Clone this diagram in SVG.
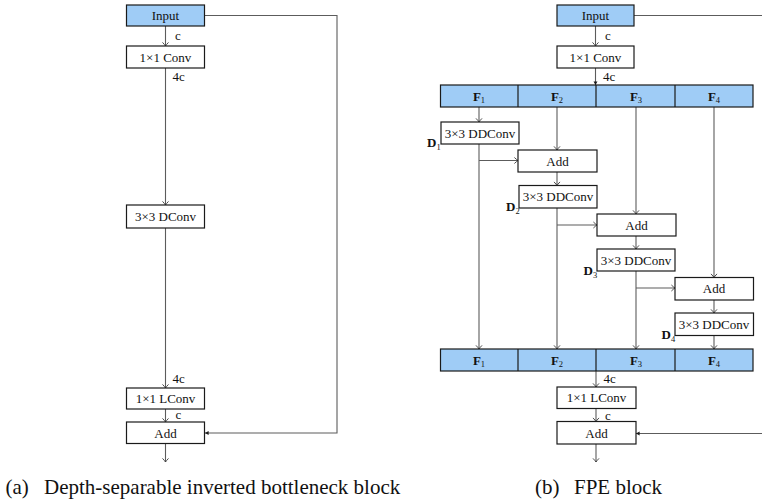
<svg xmlns="http://www.w3.org/2000/svg" width="762" height="501" viewBox="0 0 762 501">
  <style>
    text { font-family: "Liberation Serif", "Times New Roman", serif; fill: #111; }
    .lbl { font-size: 13px; text-anchor: middle; }
    .tag { font-size: 13px; }
    .fb { font-size: 13px; font-weight: bold; }
    .sub { font-size: 8.5px; font-weight: normal; }
    .cap { font-size: 21px; }
    .box { fill: #ffffff; stroke: #1a1a1a; stroke-width: 1.2; }
    .blue { fill: #9fccf6; stroke: #1a1a1a; stroke-width: 1.2; }
    .div { stroke: #1a1a1a; stroke-width: 1.2; }
    .ln { fill: none; stroke: #5c5c5c; stroke-width: 1.1; }
    .a { marker-end: url(#arr); }
    .af { marker-end: url(#arrf); }
  </style>
  <defs>
    <marker id="arr" viewBox="-5 -4 6 8" markerWidth="6" markerHeight="8" refX="0" refY="0" orient="auto" markerUnits="userSpaceOnUse">
      <path d="M-3.6,-3 Q-1.2,-0.7 0,0 Q-1.2,0.7 -3.6,3" fill="none" stroke="#3a3a3a" stroke-width="0.9"/>
    </marker>
    <marker id="arrf" viewBox="-5 -4 6 8" markerWidth="6" markerHeight="8" refX="0" refY="0" orient="auto" markerUnits="userSpaceOnUse">
      <path d="M-3.6,-2 L0,0 L-3.6,2 Z" fill="#1a1a1a"/>
    </marker>
  </defs>

  <!-- connectors -->
  <g id="connectors">
    <!-- (a) depth-separable inverted bottleneck -->
    <path class="ln a" d="M165.5,26 V46"/>
    <path class="ln a" d="M165.5,68 V205"/>
    <path class="ln a" d="M165.5,228 V388"/>
    <path class="ln a" d="M165.5,409 V422"/>
    <path class="ln a" d="M165.5,443.5 V462"/>
    <path class="ln af" d="M204.5,15.5 H337 V433 H205"/>

    <!-- (b) FPE block -->
    <path class="ln a" d="M595.5,26 V46"/>
    <path class="ln af" d="M595.5,68 V85"/>
    <path class="ln" d="M634,15.5 H762"/>
    <!-- branch 1 -->
    <path class="ln a" d="M479,107 V122"/>
    <path class="ln a" d="M479,144 V349"/>
    <path class="ln a" d="M479,160.5 H518"/>
    <!-- branch 2 -->
    <path class="ln a" d="M557,107 V150"/>
    <path class="ln a" d="M557,172 V185.5"/>
    <path class="ln a" d="M557,208 V349"/>
    <path class="ln a" d="M557,225 H597"/>
    <!-- branch 3 -->
    <path class="ln a" d="M636,107 V214"/>
    <path class="ln a" d="M636,236 V249"/>
    <path class="ln a" d="M636,271 V349"/>
    <path class="ln a" d="M636,288 H675"/>
    <!-- branch 4 -->
    <path class="ln a" d="M714,107 V277.5"/>
    <path class="ln a" d="M714,300 V313"/>
    <path class="ln a" d="M714,335.5 V349"/>
    <!-- merge and output -->
    <path class="ln a" d="M596,371 V387"/>
    <path class="ln a" d="M596,408.5 V421.5"/>
    <path class="ln a" d="M596,444 V462"/>
    <path class="ln af" d="M762,433.5 H636"/>

    <!-- channel labels -->
    <text class="tag" x="175" y="40">c</text>
    <text class="tag" x="172.5" y="81">4c</text>
    <text class="tag" x="172.5" y="382.5">4c</text>
    <text class="tag" x="175.5" y="419">c</text>
    <text class="tag" x="605" y="40">c</text>
    <text class="tag" x="603" y="81">4c</text>
    <text class="tag" x="603.5" y="383">4c</text>
    <text class="tag" x="605" y="420">c</text>
  </g>

  <!-- (a) nodes -->
  <g id="a-input">
    <rect class="blue" x="126.5" y="5" width="78" height="21"/>
    <text class="lbl" x="165.5" y="20">Input</text>
  </g>
  <g id="a-conv1">
    <rect class="box" x="126.5" y="46" width="78" height="22"/>
    <text class="lbl" x="165.5" y="61.5">1×1 Conv</text>
  </g>
  <g id="a-dconv">
    <rect class="box" x="126.5" y="205" width="78" height="23"/>
    <text class="lbl" x="165.5" y="221">3×3 DConv</text>
  </g>
  <g id="a-lconv">
    <rect class="box" x="126.5" y="388" width="78" height="21"/>
    <text class="lbl" x="165.5" y="403">1×1 LConv</text>
  </g>
  <g id="a-add">
    <rect class="box" x="126.5" y="422" width="78" height="21.5"/>
    <text class="lbl" x="165.5" y="437.5">Add</text>
  </g>

  <!-- (b) nodes -->
  <g id="b-input">
    <rect class="blue" x="557" y="5" width="77" height="21"/>
    <text class="lbl" x="595.5" y="20">Input</text>
  </g>
  <g id="b-conv1">
    <rect class="box" x="557" y="46" width="77" height="22"/>
    <text class="lbl" x="595.5" y="61.5">1×1 Conv</text>
  </g>
  <g id="b-split">
    <rect class="blue" x="440.5" y="85" width="312.5" height="22"/>
    <line class="div" x1="518" y1="85" x2="518" y2="107"/>
    <line class="div" x1="596" y1="85" x2="596" y2="107"/>
    <line class="div" x1="675" y1="85" x2="675" y2="107"/>
    <text class="fb" x="479" y="100.5" text-anchor="middle">F<tspan class="sub" dy="2.5">1</tspan></text>
    <text class="fb" x="557" y="100.5" text-anchor="middle">F<tspan class="sub" dy="2.5">2</tspan></text>
    <text class="fb" x="636" y="100.5" text-anchor="middle">F<tspan class="sub" dy="2.5">3</tspan></text>
    <text class="fb" x="714" y="100.5" text-anchor="middle">F<tspan class="sub" dy="2.5">4</tspan></text>
  </g>
  <g id="b-ddconv1">
    <rect class="box" x="441" y="122" width="78" height="22"/>
    <text class="lbl" x="480" y="137.5">3×3 DDConv</text>
    <text class="fb" x="427" y="147">D<tspan class="sub" dy="2.5">1</tspan></text>
  </g>
  <g id="b-add2">
    <rect class="box" x="518" y="150" width="79" height="22"/>
    <text class="lbl" x="557.5" y="165.5">Add</text>
  </g>
  <g id="b-ddconv2">
    <rect class="box" x="519" y="185.5" width="78" height="22.5"/>
    <text class="lbl" x="558" y="201">3×3 DDConv</text>
    <text class="fb" x="506" y="211">D<tspan class="sub" dy="2.5">2</tspan></text>
  </g>
  <g id="b-add3">
    <rect class="box" x="597" y="214" width="79" height="22"/>
    <text class="lbl" x="636.5" y="229.5">Add</text>
  </g>
  <g id="b-ddconv3">
    <rect class="box" x="597" y="249" width="78" height="22"/>
    <text class="lbl" x="636" y="264.5">3×3 DDConv</text>
    <text class="fb" x="583.5" y="275">D<tspan class="sub" dy="2.5">3</tspan></text>
  </g>
  <g id="b-add4">
    <rect class="box" x="675" y="277.5" width="78.5" height="22.5"/>
    <text class="lbl" x="714" y="293">Add</text>
  </g>
  <g id="b-ddconv4">
    <rect class="box" x="675" y="313" width="78.5" height="22.5"/>
    <text class="lbl" x="714" y="328.5">3×3 DDConv</text>
    <text class="fb" x="661.5" y="339">D<tspan class="sub" dy="2.5">4</tspan></text>
  </g>
  <g id="b-concat">
    <rect class="blue" x="440.5" y="349" width="312.5" height="22"/>
    <line class="div" x1="518" y1="349" x2="518" y2="371"/>
    <line class="div" x1="596" y1="349" x2="596" y2="371"/>
    <line class="div" x1="675" y1="349" x2="675" y2="371"/>
    <text class="fb" x="479" y="364.5" text-anchor="middle">F<tspan class="sub" dy="2.5">1</tspan></text>
    <text class="fb" x="557" y="364.5" text-anchor="middle">F<tspan class="sub" dy="2.5">2</tspan></text>
    <text class="fb" x="636" y="364.5" text-anchor="middle">F<tspan class="sub" dy="2.5">3</tspan></text>
    <text class="fb" x="714" y="364.5" text-anchor="middle">F<tspan class="sub" dy="2.5">4</tspan></text>
  </g>
  <g id="b-lconv">
    <rect class="box" x="557" y="387" width="79" height="21.5"/>
    <text class="lbl" x="596.5" y="402">1×1 LConv</text>
  </g>
  <g id="b-add">
    <rect class="box" x="557" y="421.5" width="79" height="22.5"/>
    <text class="lbl" x="596.5" y="437.5">Add</text>
  </g>

  <!-- captions -->
  <g id="captions">
    <text class="cap" x="5.5" y="494">(a)<tspan x="44">Depth-separable inverted bottleneck block</tspan></text>
    <text class="cap" x="535" y="494">(b)<tspan x="574">FPE block</tspan></text>
  </g>
</svg>
